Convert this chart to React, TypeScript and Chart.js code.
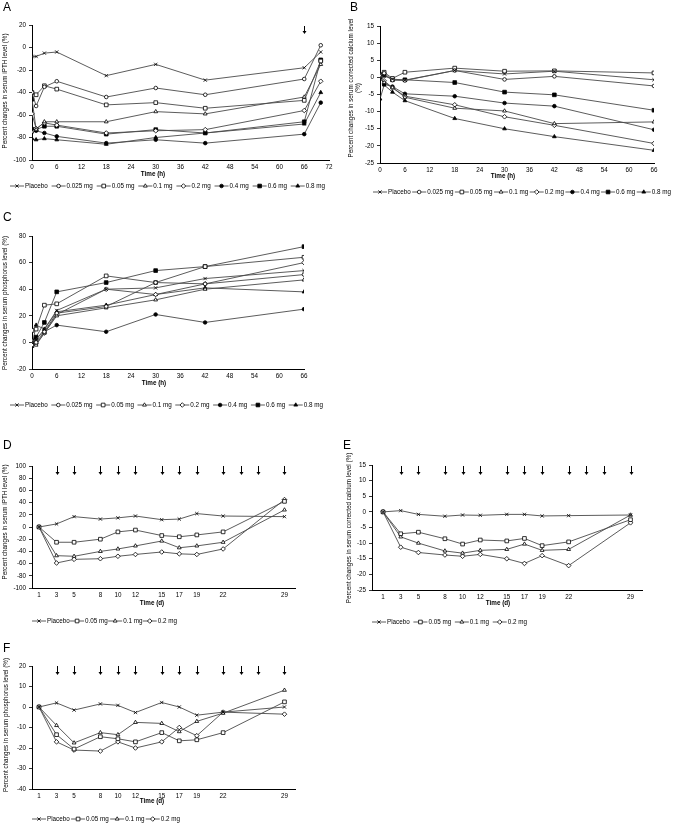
import React, { useEffect, useRef } from "react";
import { Chart, registerables } from "chart.js";
import { drawPoint } from "chart.js/helpers";
Chart.register(...registerables);

const FAM = '"Liberation Sans", Arial, sans-serif';

// ---------- labels ----------
const doses8 = ["Placebo", "0.025 mg", "0.05 mg", "0.1 mg", "0.2 mg", "0.4 mg", "0.6 mg", "0.8 mg"];
const doses4 = ["Placebo", "0.05 mg", "0.1 mg", "0.2 mg"];

// ---------- Panel A: iPTH, single dose (h) ----------
const hoursA = [0, 1, 3, 6, 18, 30, 42, 66, 70];
const pthA_placebo = [-8, -8, -5, -4, -25, -15, -29, -18, -4];
const pthA_0025 = [-40, -52, -35, -30, -44, -36, -42, -28, 2];
const pthA_005 = [-40, -42, -34, -37, -51, -49, -54, -47, -12];
const pthA_01 = [-75, -73, -66, -66, -66, -57, -59, -44, -15];
const pthA_02 = [-59, -72, -67, -69, -76, -74, -73, -56, -30];
const pthA_04 = [-72, -74, -76, -79, -85, -82, -85, -77, -49];
const pthA_06 = [-46, -73, -70, -70, -77, -73, -76, -66, -11];
const pthA_08 = [-81, -82, -81, -82, -86, -80, -76, -68, -40];
const arrowsA = [66];

// ---------- Panel B: corrected calcium (h) ----------
const hoursB = [0, 1, 3, 6, 18, 30, 42, 66];
const caB_placebo = [0, 0.5, -0.5, -0.8, 2, 1, 1.8, -0.7];
const caB_0025 = [0.3, 1.2, -0.8, -0.9, 2, -0.6, 0.3, -2.5];
const caB_005 = [0.5, 1.5, -0.3, 1.5, 2.7, 1.8, 1.9, 1.3];
const caB_01 = [0, -1.5, -3, -5.8, -9, -9.8, -13.5, -13];
const caB_02 = [0.5, -1, -3, -5.5, -8, -11.5, -14, -19.3];
const caB_04 = [0, -2, -2.7, -4.8, -5.5, -7.5, -8.4, -15.3];
const caB_06 = [0.8, 0.6, -0.7, -0.7, -1.5, -4.3, -5.1, -9.6];
const caB_08 = [-6.3, -2.2, -4.3, -6.8, -12, -15, -17.3, -21.3];

// ---------- Panel C: phosphorus (h) ----------
const hoursC = [0, 1, 3, 6, 18, 30, 42, 66];
const pC_placebo = [0, 2, 10, 24, 40, 41, 48, 54];
const pC_0025 = [-2, 0, 8, 22, 27, 45, 44, 51];
const pC_005 = [9, 10, 28, 29, 50, 45, 57, 64];
const pC_01 = [0, -2, 7, 20, 26, 32, 40, 47];
const pC_02 = [1, -1, 7, 21, 40, 36, 44, 60];
const pC_04 = [-1, 3, 8, 13, 8, 21, 15, 25];
const pC_06 = [1, 4, 15, 38, 45, 54, 57, 72];
const pC_08 = [-3, 13, 10, 23, 28, 36, 41, 38];

// ---------- Panels D-F: multiple dose (d) ----------
const days = [1, 3, 5, 8, 10, 12, 15, 17, 19, 22, 29];
const dosingDays = [3, 5, 8, 10, 12, 15, 17, 19, 22, 24, 26, 29];

const pthD_placebo = [0, 5, 17, 13, 15, 18, 12, 13, 22, 18, 17];
const pthD_005 = [0, -25, -25, -20, -8, -5, -14, -16, -13, -8, 42];
const pthD_01 = [0, -47, -48, -40, -36, -31, -23, -34, -31, -25, 28];
const pthD_02 = [0, -59, -53, -52, -48, -45, -41, -44, -45, -36, 45];

const caE_placebo = [0, 0.4, -0.8, -1.4, -1, -1.1, -0.8, -0.8, -1.3, -1.2, -1];
const caE_005 = [0, -7, -6.5, -8.6, -10.3, -9, -9.3, -8.5, -10.8, -9.6, -2.5];
const caE_01 = [0, -8, -10, -12.5, -13.2, -12.3, -12, -10.3, -12.3, -12, -1];
const caE_02 = [0, -11.3, -13, -13.8, -14.2, -13.6, -15, -16.5, -14, -17.2, -3.5];

const pF_placebo = [0, 2, -1.5, 1.5, 0.8, -2.7, 2.2, 0, -4, -2.5, 0];
const pF_005 = [0, -13.5, -20.5, -14.5, -15.5, -17, -12.5, -16.5, -16, -12.5, 2.5];
const pF_01 = [0, -9, -17.5, -12.5, -13.5, -7.5, -8, -12, -7, -3, 8.2];
const pF_02 = [0, -17, -21, -21.5, -17, -20, -17, -10, -14, -2.5, -3.5];

// ---------- styles ----------
const markerStyles: Record<string, { shape: string; filled: boolean; r: number }> = {
  "Placebo": { shape: "crossRot", filled: false, r: 2.3 },
  "0.025 mg": { shape: "circle", filled: false, r: 1.8 },
  "0.05 mg": { shape: "rect", filled: false, r: 2.6 },
  "0.1 mg": { shape: "triangle", filled: false, r: 2.2 },
  "0.2 mg": { shape: "rectRot", filled: false, r: 2.3 },
  "0.4 mg": { shape: "circle", filled: true, r: 1.8 },
  "0.6 mg": { shape: "rect", filled: true, r: 2.6 },
  "0.8 mg": { shape: "triangle", filled: true, r: 2.2 },
};
const LINE = "#4a4a4a";

function font(size: number, bold = false) {
  return `${bold ? "bold " : ""}${size}px ${FAM}`;
}

const decorPlugin = {
  id: "decor",
  afterDraw(chart: any, _args: any, o: any) {
    const ctx = chart.ctx;
    ctx.save();
    ctx.fillStyle = "#000";
    // panel letter
    ctx.font = font(12);
    ctx.textAlign = "left";
    ctx.textBaseline = "alphabetic";
    ctx.fillText(o.letter, o.letterX, o.letterY);
    // y title
    ctx.save();
    ctx.translate(o.yTitleX, o.yTitleY);
    ctx.rotate(-Math.PI / 2);
    ctx.font = font(6.3);
    ctx.textAlign = "center";
    ctx.textBaseline = "middle";
    const n = o.yTitle.length;
    o.yTitle.forEach((line: string, i: number) => {
      ctx.fillText(line, 0, (i - (n - 1) / 2) * 7);
    });
    ctx.restore();
    // x title
    ctx.font = font(6.3, true);
    ctx.textAlign = "center";
    ctx.textBaseline = "middle";
    ctx.fillText(o.xTitle, o.xTitleX, o.xTitleY);
    // legend
    ctx.font = font(6.3);
    const ds = chart.data.datasets;
    const L = 14;
    const widths = ds.map((d: any) => L + 1 + ctx.measureText(d.label).width);
    const tot = widths.reduce((a: number, b: number) => a + b, 0);
    const gap = ds.length > 1 ? (o.legendX1 - o.legendX0 - tot) / (ds.length - 1) : 0;
    let x = o.legendX0;
    const y = o.legendY;
    ds.forEach((d: any, i: number) => {
      ctx.strokeStyle = LINE;
      ctx.lineWidth = 0.9;
      ctx.beginPath();
      ctx.moveTo(x, y);
      ctx.lineTo(x + L, y);
      ctx.stroke();
      ctx.fillStyle = d.pointBackgroundColor;
      ctx.strokeStyle = "#000";
      ctx.lineWidth = 0.8;
      drawPoint(ctx, { pointStyle: d.pointStyle, radius: d.pointRadius, rotation: 0, borderWidth: 0.8 }, x + L / 2, y);
      ctx.fillStyle = "#000";
      ctx.textAlign = "left";
      ctx.textBaseline = "middle";
      ctx.fillText(d.label, x + L + 1, y);
      x += widths[i] + gap;
    });
    // arrows
    if (o.arrows) {
      const xs = chart.scales.x;
      ctx.strokeStyle = "#000";
      ctx.fillStyle = "#000";
      ctx.lineWidth = 1;
      o.arrows.forEach((v: number) => {
        const px = Math.round(xs.getPixelForValue(v)) + 0.5;
        ctx.beginPath();
        ctx.moveTo(px, o.arrowY0);
        ctx.lineTo(px, o.arrowY1 - 2);
        ctx.stroke();
        ctx.beginPath();
        ctx.moveTo(px - 2, o.arrowY1 - 3);
        ctx.lineTo(px + 2, o.arrowY1 - 3);
        ctx.lineTo(px, o.arrowY1);
        ctx.closePath();
        ctx.fill();
      });
    }
    ctx.restore();
  },
};

type PanelCfg = {
  left: number; top: number; width: number; height: number;
  area: { l: number; t: number; r: number; b: number };
  xs: number[];
  labels: string[];
  values: number[][];
  xMin: number; xMax: number; xStep?: number; xTicks?: number[];
  yMin: number; yMax: number; yStep: number;
  letter: string; letterX: number; letterY: number;
  yTitle: string[]; yTitleX: number; yTitleY: number;
  xTitle: string; xTitleX: number; xTitleY: number;
  legendX0: number; legendX1: number; legendY: number;
  arrows?: number[]; arrowY0?: number; arrowY1?: number;
};

function buildConfig(p: PanelCfg): any {
  const a = { l: p.area.l - p.left, t: p.area.t - p.top, r: p.area.r - p.left, b: p.area.b - p.top };
  const xH = 12;
  const datasets = p.labels.map((lab, i) => {
    const st = markerStyles[lab];
    return {
      label: lab,
      data: p.xs.map((x, j) => ({ x, y: p.values[i][j] })),
      borderColor: LINE,
      borderWidth: 0.9,
      tension: 0,
      pointStyle: st.shape,
      pointRadius: st.r,
      pointBorderWidth: 0.8,
      pointBorderColor: "#000",
      pointBackgroundColor: st.filled ? "#000" : "#fff",
      fill: false,
    };
  });
  const tickFont = { family: FAM, size: 6.3 };
  return {
    type: "line",
    data: { datasets },
    options: {
      animation: false,
      responsive: false,
      devicePixelRatio: 1,
      events: [],
      layout: { padding: { left: 0, top: a.t, right: p.width - a.r, bottom: p.height - a.b - xH } },
      plugins: {
        legend: { display: false },
        tooltip: { enabled: false },
        decor: {
          letter: p.letter, letterX: p.letterX - p.left, letterY: p.letterY - p.top,
          yTitle: p.yTitle, yTitleX: p.yTitleX - p.left, yTitleY: p.yTitleY - p.top,
          xTitle: p.xTitle, xTitleX: p.xTitleX - p.left, xTitleY: p.xTitleY - p.top,
          legendX0: p.legendX0 - p.left, legendX1: p.legendX1 - p.left, legendY: p.legendY - p.top,
          arrows: p.arrows, arrowY0: (p.arrowY0 ?? 0) - p.top, arrowY1: (p.arrowY1 ?? 0) - p.top,
        },
      },
      scales: {
        x: {
          type: "linear",
          min: p.xMin,
          max: p.xMax,
          afterFit: (s: any) => { s.height = xH; },
          afterBuildTicks: p.xTicks ? (s: any) => { s.ticks = p.xTicks!.map((v) => ({ value: v })); } : undefined,
          ticks: { stepSize: p.xStep, color: "#000", font: tickFont, padding: 3, maxRotation: 0, autoSkip: false },
          grid: { display: true, drawOnChartArea: false, drawTicks: false },
          border: { display: true, color: "#000", width: 1 },
        },
        y: {
          type: "linear",
          min: p.yMin,
          max: p.yMax,
          afterFit: (s: any) => { s.width = a.l; },
          ticks: { stepSize: p.yStep, color: "#000", font: tickFont, padding: 3 },
          grid: { display: true, drawOnChartArea: false, drawTicks: true, tickLength: 3, color: "#000", lineWidth: 0.8 },
          border: { display: true, color: "#000", width: 1 },
        },
      },
    },
    plugins: [decorPlugin],
  };
}

const panels: PanelCfg[] = [
  {
    left: 0, top: 0, width: 340, height: 200,
    area: { l: 32, t: 25, r: 329, b: 160 },
    xs: hoursA, labels: doses8,
    values: [pthA_placebo, pthA_0025, pthA_005, pthA_01, pthA_02, pthA_04, pthA_06, pthA_08],
    xMin: 0, xMax: 72, xStep: 6, yMin: -100, yMax: 20, yStep: 20,
    letter: "A", letterX: 3, letterY: 11,
    yTitle: ["Percent changes in serum iPTH level (%)"], yTitleX: 5, yTitleY: 91,
    xTitle: "Time (h)", xTitleX: 153, xTitleY: 174,
    legendX0: 10, legendX1: 325, legendY: 186,
    arrows: arrowsA, arrowY0: 26, arrowY1: 34,
  },
  {
    left: 340, top: 0, width: 334, height: 200,
    area: { l: 380, t: 26, r: 654, b: 163 },
    xs: hoursB, labels: doses8,
    values: [caB_placebo, caB_0025, caB_005, caB_01, caB_02, caB_04, caB_06, caB_08],
    xMin: 0, xMax: 66, xStep: 6, yMin: -25, yMax: 15, yStep: 5,
    letter: "B", letterX: 350, letterY: 11,
    yTitle: ["Percent changes in serum corrected calcium level", "(%)"], yTitleX: 355, yTitleY: 88,
    xTitle: "Time (h)", xTitleX: 503, xTitleY: 176,
    legendX0: 373, legendX1: 671, legendY: 192,
  },
  {
    left: 0, top: 205, width: 340, height: 210,
    area: { l: 32, t: 236, r: 304, b: 369 },
    xs: hoursC, labels: doses8,
    values: [pC_placebo, pC_0025, pC_005, pC_01, pC_02, pC_04, pC_06, pC_08],
    xMin: 0, xMax: 66, xStep: 6, yMin: -20, yMax: 80, yStep: 20,
    letter: "C", letterX: 3, letterY: 221,
    yTitle: ["Percent changes in serum phosphorus level (%)"], yTitleX: 5, yTitleY: 303,
    xTitle: "Time (h)", xTitleX: 154, xTitleY: 383,
    legendX0: 10, legendX1: 323, legendY: 405,
  },
  {
    left: 0, top: 430, width: 340, height: 198,
    area: { l: 32, t: 466, r: 295, b: 588 },
    xs: days, labels: doses4,
    values: [pthD_placebo, pthD_005, pthD_01, pthD_02],
    xMin: 0.2, xMax: 30.2, xTicks: days, yMin: -100, yMax: 100, yStep: 20,
    letter: "D", letterX: 3, letterY: 449,
    yTitle: ["Percent changes in serum iPTH level (%)"], yTitleX: 5, yTitleY: 522,
    xTitle: "Time (d)", xTitleX: 152, xTitleY: 603,
    legendX0: 32, legendX1: 177, legendY: 621,
    arrows: dosingDays, arrowY0: 466, arrowY1: 475,
  },
  {
    left: 340, top: 430, width: 334, height: 198,
    area: { l: 372, t: 465, r: 642, b: 590 },
    xs: days, labels: doses4,
    values: [caE_placebo, caE_005, caE_01, caE_02],
    xMin: -0.25, xMax: 30.3, xTicks: days, yMin: -25, yMax: 15, yStep: 5,
    letter: "E", letterX: 343, letterY: 449,
    yTitle: ["Percent changes in serum corrected calcium level (%)"], yTitleX: 349, yTitleY: 528,
    xTitle: "Time (d)", xTitleX: 498, xTitleY: 603,
    legendX0: 372, legendX1: 527, legendY: 622,
    arrows: dosingDays, arrowY0: 466, arrowY1: 475,
  },
  {
    left: 0, top: 636, width: 340, height: 188,
    area: { l: 32, t: 666, r: 295, b: 789 },
    xs: days, labels: doses4,
    values: [pF_placebo, pF_005, pF_01, pF_02],
    xMin: 0.2, xMax: 30.2, xTicks: days, yMin: -40, yMax: 20, yStep: 10,
    letter: "F", letterX: 3, letterY: 652,
    yTitle: ["Percent changes in serum phosphorus level (%)"], yTitleX: 6, yTitleY: 725,
    xTitle: "Time (d)", xTitleX: 152, xTitleY: 801,
    legendX0: 32, legendX1: 180, legendY: 819,
    arrows: dosingDays, arrowY0: 666, arrowY1: 675,
  },
];

function Panel({ cfg }: { cfg: PanelCfg }) {
  const ref = useRef<HTMLCanvasElement>(null);
  useEffect(() => {
    const chart = new Chart(ref.current as HTMLCanvasElement, buildConfig(cfg));
    return () => chart.destroy();
  }, [cfg]);
  return (
    <div style={{ position: "absolute", left: cfg.left, top: cfg.top, width: cfg.width, height: cfg.height }}>
      <canvas ref={ref} width={cfg.width} height={cfg.height} style={{ width: cfg.width, height: cfg.height, display: "block" }} />
    </div>
  );
}

export default function App() {
  return (
    <div style={{ position: "absolute", left: 0, top: 0, width: 674, height: 824, background: "#fff", overflow: "hidden" }}>
      {panels.map((p, i) => (
        <Panel key={i} cfg={p} />
      ))}
    </div>
  );
}
